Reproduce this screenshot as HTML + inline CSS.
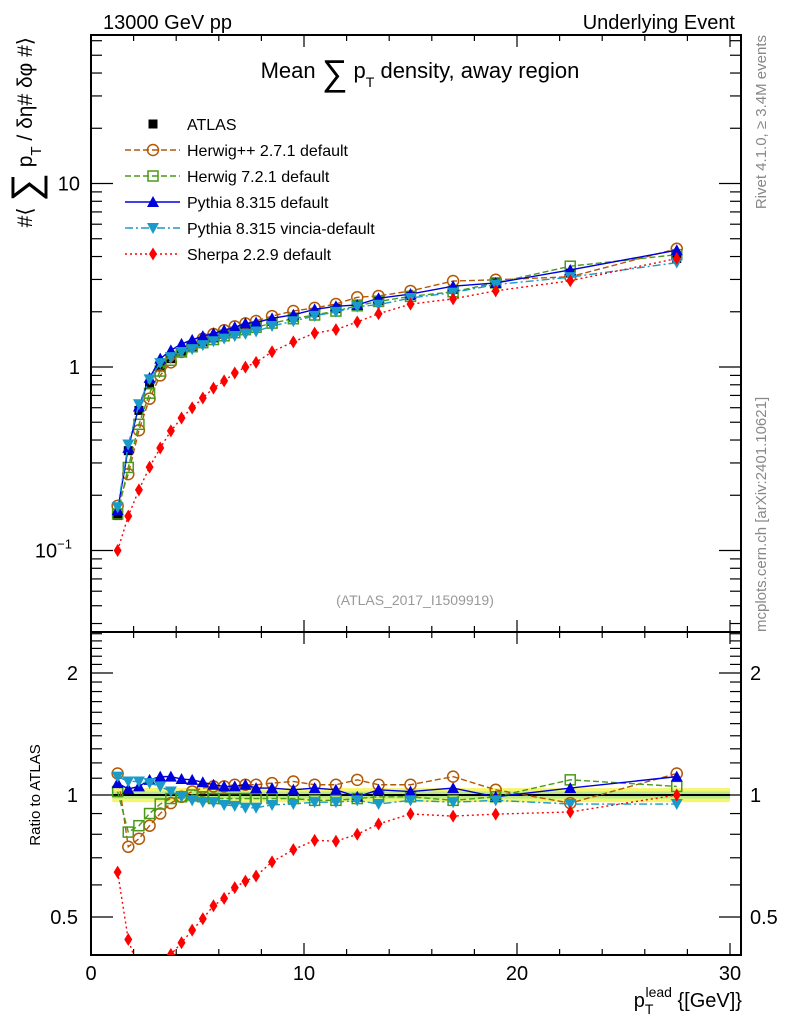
<!DOCTYPE html>
<html><head><meta charset="utf-8"><style>
body{margin:0;background:#fff}
svg{display:block;font-family:"Liberation Sans","DejaVu Sans",sans-serif}
</style></head><body>
<svg id="c" width="786" height="1024" viewBox="0 0 786 1024" xmlns="http://www.w3.org/2000/svg">
<defs>
<clipPath id="cm"><rect x="91" y="35" width="650" height="597"/></clipPath>
<clipPath id="cr"><rect x="91" y="632" width="650" height="323"/></clipPath>
</defs>
<g id="g"></g>
<text x="103" y="29" font-size="20">13000 GeV pp</text>
<text x="735" y="29" font-size="20" text-anchor="end">Underlying Event</text>
<text x="420" y="78" font-size="22" text-anchor="middle">Mean <tspan font-size="36" dy="7">∑</tspan><tspan dy="-7"> p</tspan><tspan font-size="14" dy="9">T</tspan><tspan dy="-9"> density, away region</tspan></text>
<text x="415" y="605" font-size="14" fill="#999" text-anchor="middle">(ATLAS_2017_I1509919)</text>
<text transform="translate(766,35) rotate(-90)" font-size="15" fill="#888" text-anchor="end">Rivet 4.1.0, ≥ 3.4M events</text>
<text transform="translate(766,632) rotate(-90)" font-size="15" fill="#888">mcplots.cern.ch [arXiv:2401.10621]</text>
<text transform="translate(32,37) rotate(-90)" font-size="21" text-anchor="end">#⟨ <tspan font-size="40" dy="7">∑</tspan><tspan dy="-7"> p</tspan><tspan font-size="15" dy="9">T</tspan><tspan dy="-9">  / δη# δφ #⟩</tspan></text>
<text transform="translate(40,795) rotate(-90)" font-size="15" text-anchor="middle">Ratio to ATLAS</text>
<text x="742" y="1007" font-size="20" text-anchor="end">p<tspan font-size="14" dy="7">T</tspan><tspan font-size="14" dx="-8" dy="-17">lead</tspan><tspan dy="10"> {[GeV]}</tspan></text>
</svg>
<script>
const xVals=[1.25,1.75,2.25,2.75,3.25,3.75,4.25,4.75,5.25,5.75,6.25,6.75,7.25,7.75,8.5,9.5,10.5,11.5,12.5,13.5,15,17,19,22.5,27.5];
const atlas=[0.155,0.35,0.58,0.80,1.0,1.11,1.22,1.29,1.37,1.44,1.51,1.57,1.63,1.68,1.77,1.87,1.98,2.08,2.2,2.3,2.45,2.65,2.9,3.25,3.9];
const herwigppRatio=[1.13,0.745,0.78,0.84,0.90,0.955,0.99,1.02,1.04,1.05,1.05,1.06,1.06,1.06,1.07,1.08,1.06,1.06,1.09,1.06,1.06,1.11,1.03,0.955,1.13];
const herwig7Ratio=[1.02,0.81,0.84,0.90,0.95,0.98,0.99,1.0,0.99,0.98,0.98,0.98,0.98,0.98,0.98,0.98,0.97,0.97,0.98,0.99,0.99,0.97,0.99,1.09,1.05];
const pythiaRatio=[1.07,1.035,1.05,1.09,1.11,1.11,1.095,1.09,1.075,1.06,1.05,1.05,1.06,1.04,1.04,1.03,1.04,1.03,0.99,1.03,1.02,1.04,0.99,1.04,1.11];
const vinciaRatio=[1.11,1.08,1.08,1.07,1.05,1.02,0.99,0.97,0.96,0.96,0.945,0.94,0.93,0.93,0.945,0.95,0.96,0.96,0.97,0.95,0.97,0.96,0.97,0.95,0.95];
const sherpaRatio=[0.645,0.44,0.369,0.356,0.362,0.404,0.432,0.464,0.495,0.533,0.556,0.591,0.613,0.631,0.684,0.733,0.773,0.769,0.8,0.848,0.898,0.887,0.897,0.908,1.0];
const xTicks=[0,10,20,30];
const NS="http://www.w3.org/2000/svg";
const G=document.getElementById('g');
const X=v=>91+v*21.3;
const YM=v=>367-183.5*Math.log10(v);
const YR=v=>795-122*Math.log2(v);
function el(t,a,p){const e=document.createElementNS(NS,t);for(const k in a)e.setAttribute(k,a[k]);(p||G).appendChild(e);return e;}
const band=el('rect',{x:X(1),y:YR(1.04),width:X(30)-X(1),height:YR(0.96)-YR(1.04),fill:'#f5f56e'});


const band2=el('rect',{x:X(1),y:YR(1.02),width:X(30)-X(1),height:YR(0.98)-YR(1.02),fill:'#b8ea8a'});


for(const [y0,y1] of [[35,632],[632,955]]){
 const f=el('rect',{x:91,y:y0,width:650,height:y1-y0,fill:'none',stroke:'#000','stroke-width':2});
 
 
}
for(let v=0;v<=30;v+=2){
 const big=v%10===0,x=X(v);
 for(const [yb,yt] of [[632,35],[955,632]]){
  el('line',{x1:x,y1:yb,x2:x,y2:yb-(big?12:6),stroke:'#000','stroke-width':1.2});
  el('line',{x1:x,y1:yt,x2:x,y2:yt+(big?12:6),stroke:'#000','stroke-width':1.2});
 }
}
xTicks.forEach(v=>{const t=el('text',{x:X(v),y:980,'font-size':20,'text-anchor':'middle'});t.textContent=v;

});
for(let d=-2;d<=1;d++)for(let m=1;m<=9;m++){const v=m*Math.pow(10,d),y=YM(v);if(y<35||y>632)continue;
 const L=m===1?22:11;el('line',{x1:91,y1:y,x2:91+L,y2:y,stroke:'#000','stroke-width':1.2});el('line',{x1:741,y1:y,x2:741-L,y2:y,stroke:'#000','stroke-width':1.2});}
[[0.1,'10','−1'],[1,'1',''],[10,'10','']].forEach(([v,b,e])=>{const t=el('text',{x:e?72:80,y:YM(v)+7,'font-size':20,'text-anchor':'end'});t.textContent=b;


if(e){const s=el('tspan',{'font-size':13,dy:-9},t);s.textContent=e;}});
for(let v=0.4;v<2.6;v+=0.1){const y=YR(v);if(y<632||y>955)continue;const big=[0.5,1,2].some(q=>Math.abs(q-v)<1e-6);
 const L=big?22:11;el('line',{x1:91,y1:y,x2:91+L,y2:y,stroke:'#000','stroke-width':1.2});el('line',{x1:741,y1:y,x2:741-L,y2:y,stroke:'#000','stroke-width':1.2});}
[0.5,1,2].forEach(v=>{for(const [x,a] of [[78,'end'],[750,'start']]){const t=el('text',{x:x,y:YR(v)+7,'font-size':20,'text-anchor':a});t.textContent=v;

}});
el('line',{x1:X(1),y1:YR(1),x2:X(30),y2:YR(1),stroke:'#000','stroke-width':2});
function marker(p,kind,c,x,y){
 if(kind==='sq')return el('rect',{x:x-4.5,y:y-4.5,width:9,height:9,fill:'#000'},p);
 if(kind==='circ')return el('circle',{cx:x,cy:y,r:5.5,fill:'none',stroke:c,'stroke-width':1.5},p);
 if(kind==='osq')return el('rect',{x:x-5,y:y-5,width:10,height:10,fill:'none',stroke:c,'stroke-width':1.5},p);
 if(kind==='tri')return el('polygon',{points:`${x},${y-6} ${x-6},${y+5} ${x+6},${y+5}`,fill:c},p);
 if(kind==='itri')return el('polygon',{points:`${x},${y+6} ${x-6},${y-5} ${x+6},${y-5}`,fill:c},p);
 if(kind==='dia')return el('polygon',{points:`${x},${y-6.5} ${x-4},${y} ${x},${y+6.5} ${x+4},${y}`,fill:c},p);
}
const series=[
 {name:'herwigpp',r:herwigppRatio,c:'#b35806',k:'circ',d:'6,3',lab:'Herwig++ 2.7.1 default'},
 {name:'herwig7',r:herwig7Ratio,c:'#4a9a1a',k:'osq',d:'6,3',lab:'Herwig 7.2.1 default'},
 {name:'pythia',r:pythiaRatio,c:'#0000dd',k:'tri',d:'',lab:'Pythia 8.315 default'},
 {name:'vincia',r:vinciaRatio,c:'#1a9ac8',k:'itri',d:'8,3,2,3',lab:'Pythia 8.315 vincia-default'},
 {name:'sherpa',r:sherpaRatio,c:'#ff0000',k:'dia',d:'2,3',lab:'Sherpa 2.2.9 default'}];
const gm=el('g',{'clip-path':'url(#cm)'}),gr=el('g',{'clip-path':'url(#cr)'});
xVals.forEach((x,i)=>{const m=marker(gm,'sq','#000',X(x),YM(atlas[i]));
 
 });
series.forEach(s=>{
 const main=xVals.map((x,i)=>[X(x),YM(atlas[i]*s.r[i])]);
 const rat=xVals.map((x,i)=>[X(x),YR(s.r[i])]);
 [[gm,main],[gr,rat]].forEach(([p,pts])=>{
  const pl=el('polyline',{points:pts.map(q=>q.join(',')).join(' '),fill:'none',stroke:s.c,'stroke-width':1.4,'stroke-dasharray':s.d},p);
  
  
  pts.forEach(q=>{const m=marker(p,s.k,s.c,q[0],q[1]);
   
   });
 });
});
const lg=el('g',{});


marker(lg,'sq','#000',153,124);
let t=el('text',{x:187,y:130,'font-size':16},lg);t.textContent='ATLAS';


series.forEach((s,i)=>{const y=150+26*i;
 el('line',{x1:125,y1:y,x2:180,y2:y,stroke:s.c,'stroke-width':1.4,'stroke-dasharray':s.d},lg);
 marker(lg,s.k,s.c,153,y);
 const tt=el('text',{x:187,y:y+6,'font-size':16},lg);tt.textContent=s.lab;
 
 });
</script>
</body></html>
